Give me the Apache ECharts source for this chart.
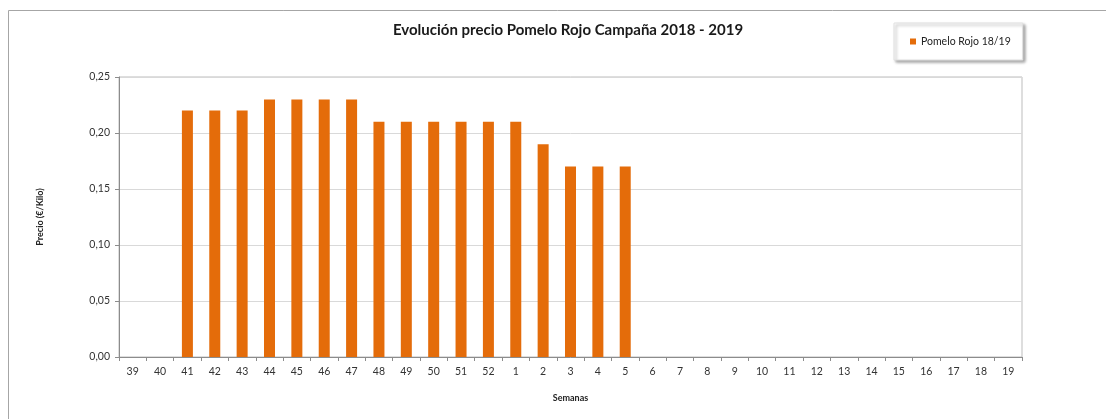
<!DOCTYPE html>
<html><head><meta charset="utf-8">
<script src="https://cdn.jsdelivr.net/npm/echarts@6/dist/echarts.min.js"></script>
<style>html,body{margin:0;padding:0;background:#fff;}#c{width:1106px;height:419px;}</style>
</head><body><div id="c"></div>
<script>
const categories = ['39','40','41','42','43','44','45','46','47','48','49','50','51','52','1','2','3','4','5','6','7','8','9','10','11','12','13','14','15','16','17','18','19'];
const pomeloRojo = [null,null,0.22,0.22,0.22,0.23,0.23,0.23,0.23,0.21,0.21,0.21,0.21,0.21,0.21,0.19,0.17,0.17,0.17,null,null,null,null,null,null,null,null,null,null,null,null,null,null];
const seriesName = 'Pomelo Rojo 18/19';
const FONT = 'Lato, "Open Sans", sans-serif';
const chart = echarts.init(document.getElementById('c'));
chart.setOption({
  animation:false,
  textStyle:{fontFamily:FONT},
  graphic:[{type:'rect',shape:{x:8.5,y:10.5,width:1200,height:500},style:{fill:null,stroke:'#a6a6a6',lineWidth:1},silent:true,z:-1}],
  title:{text:'Evolución precio Pomelo Rojo Campaña 2018 - 2019',left:563,textAlign:'center',top:18,
    textStyle:{fontFamily:FONT,fontSize:15,fontWeight:'bold',color:'#1a1a1a'}},
  legend:{data:[seriesName],left:894,top:23,width:126,height:38,padding:[13,12,13,16],
    backgroundColor:'#fff',borderColor:'#e0e0e0',borderWidth:1,shadowColor:'rgba(0,0,0,0.35)',shadowBlur:3,shadowOffsetX:2,shadowOffsetY:2,
    itemWidth:6,itemHeight:6,itemGap:4,icon:'rect',textStyle:{fontFamily:FONT,fontSize:10.5,color:'#222'}},
  grid:{left:119,right:84,top:77,bottom:62,show:true,borderColor:'#bdbdbd',borderWidth:1,backgroundColor:'#fff'},
  xAxis:{type:'category',data:categories,boundaryGap:true,name:'Semanas',nameLocation:'middle',nameGap:37,
    nameTextStyle:{fontFamily:FONT,fontSize:9,fontWeight:'bold',color:'#222'},
    axisLine:{lineStyle:{color:'#8c8c8c'}},axisTick:{show:true,length:4,interval:0,lineStyle:{color:'#8c8c8c'}},
    axisLabel:{interval:0,fontSize:10.5,color:'#333',margin:9}},
  yAxis:{type:'value',min:0,max:0.25,interval:0.05,name:'Precio (€/Kilo)',nameLocation:'middle',nameGap:74,nameRotate:90,
    nameTextStyle:{fontFamily:FONT,fontSize:9,fontWeight:'bold',color:'#222'},
    axisLine:{show:true,lineStyle:{color:'#8c8c8c'}},axisTick:{show:true,length:4,lineStyle:{color:'#8c8c8c'}},
    axisLabel:{fontSize:10.5,color:'#333',margin:9,formatter:v=>v.toFixed(2).replace('.',',')},
    splitLine:{lineStyle:{color:'#d9d9d9'}}},
  series:[{name:seriesName,type:'bar',data:pomeloRojo,barWidth:11,itemStyle:{color:'#e46c0a'}}]
});
</script></body></html>
